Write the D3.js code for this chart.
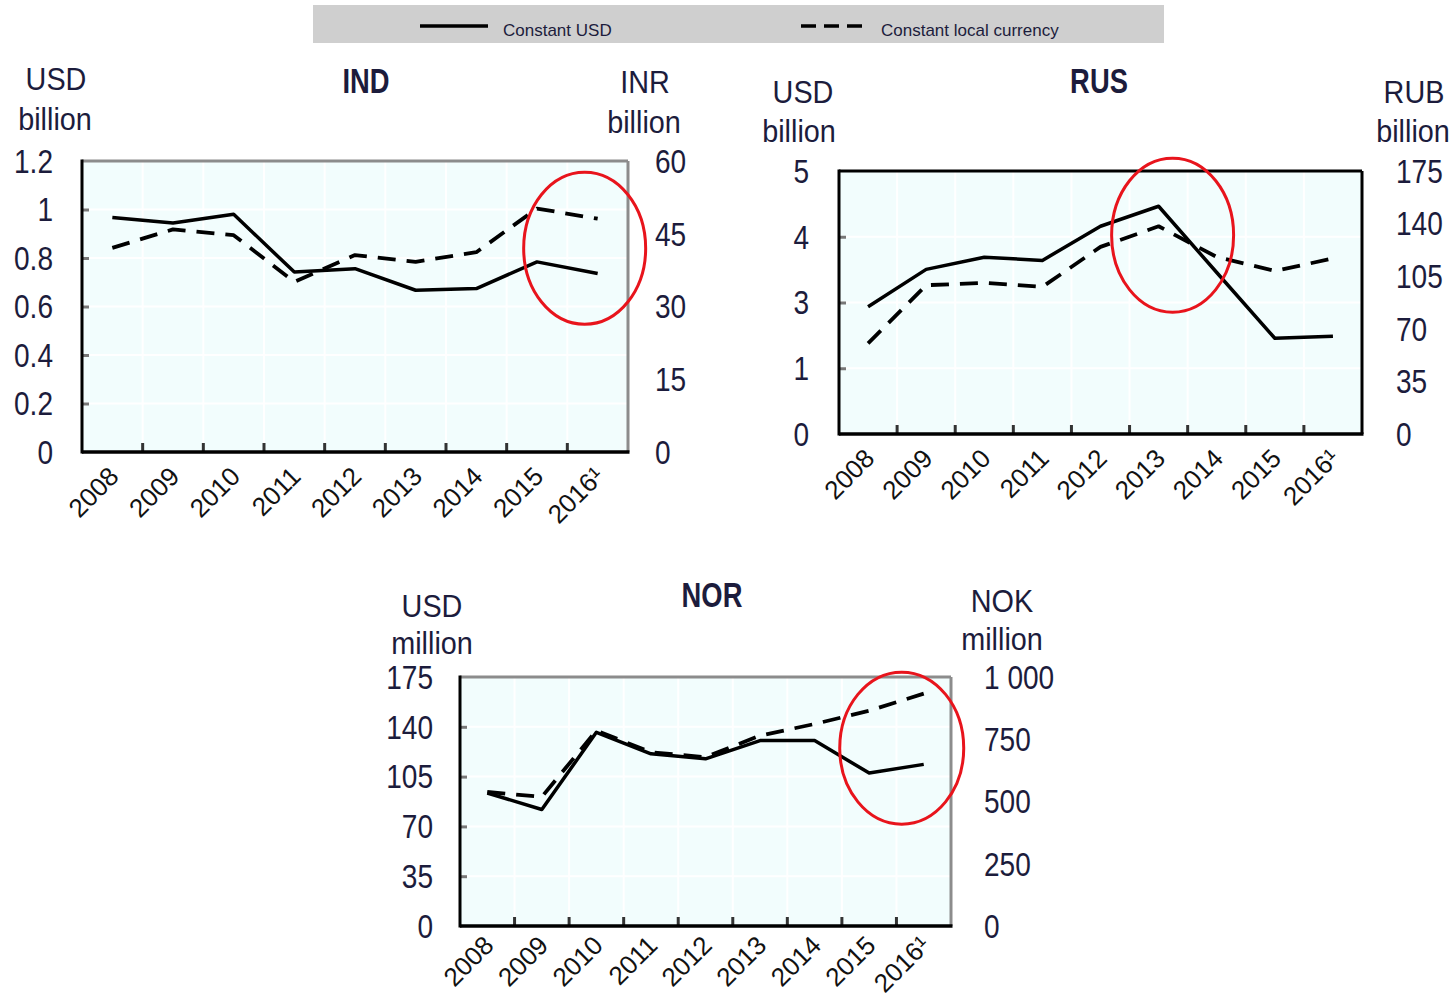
<!DOCTYPE html>
<html>
<head>
<meta charset="utf-8">
<script src="https://cdn.jsdelivr.net/npm/d3@7"></script>
<style>
  html, body { margin: 0; padding: 0; background: #ffffff; }
  svg { display: block; }
</style>
</head>
<body>
<script>
// ---------------- DATA ----------------
const years = ["2008", "2009", "2010", "2011", "2012", "2013", "2014", "2015", "2016¹"];

const seriesNames = ["Constant USD", "Constant local currency"];

// IND: USD billion (left), INR billion (right)
const indUSD = [0.967, 0.944, 0.980, 0.742, 0.756, 0.667, 0.674, 0.784, 0.736];
const indLCU = [42.1, 45.9, 44.7, 35.1, 40.6, 39.2, 41.2, 50.2, 48.1];
const indLeftTicks = [0, 0.2, 0.4, 0.6, 0.8, 1, 1.2];
const indLeftLabels = ["0", "0.2", "0.4", "0.6", "0.8", "1", "1.2"];
const indRightTicks = [0, 15, 30, 45, 60];
const indRightLabels = ["0", "15", "30", "45", "60"];

// RUS: USD billion (left), RUB billion (right)
const rusUSD = [2.42, 3.13, 3.36, 3.30, 3.95, 4.33, 3.07, 1.82, 1.86];
const rusLCU = [60.3, 99.0, 100.6, 97.9, 124.5, 138.2, 117.8, 108.5, 116.8];
const rusLeftTicks = [0, 1.25, 2.5, 3.75, 5];
const rusLeftLabels = ["0", "1", "3", "4", "5"];
const rusRightTicks = [0, 35, 70, 105, 140, 175];
const rusRightLabels = ["0", "35", "70", "105", "140", "175"];

// NOR: USD million (left), NOK million (right)
const norUSD = [93.5, 81.9, 136.1, 121.0, 117.5, 130.3, 130.3, 107.5, 113.6];
const norLCU = [538.6, 518.5, 784.6, 698, 678, 764.7, 811.3, 864.4, 933.4];
const norLeftTicks = [0, 35, 70, 105, 140, 175];
const norLeftLabels = ["0", "35", "70", "105", "140", "175"];
const norRightTicks = [0, 250, 500, 750, 1000];
const norRightLabels = ["0", "250", "500", "750", "1 000"];

// ---------------- DRAWING ----------------
const W = 1456, H = 1001;
const FONT = "'Liberation Sans', Arial, sans-serif";
const TXT = "#1c1c3c";

const svg = d3.select("body").append("svg").attr("width", W).attr("height", H);

function label(g, x, y, str, opt = {}) {
  return g.append("text")
    .attr("transform", `translate(${x},${y}) scale(${opt.sx || 1},1)`)
    .attr("text-anchor", opt.anchor || "middle")
    .attr("dy", opt.dy || "0.36em")
    .attr("font-family", FONT)
    .attr("font-size", (opt.size || 33) + "px")
    .attr("font-weight", opt.weight || "normal")
    .attr("fill", opt.fill || TXT)
    .text(str);
}

// Legend
const leg = svg.append("g");
leg.append("rect").attr("x", 313).attr("y", 5).attr("width", 851).attr("height", 38).attr("fill", "#cfcfcf");
leg.append("line").attr("x1", 420).attr("x2", 488).attr("y1", 26).attr("y2", 26)
  .attr("stroke", "#000").attr("stroke-width", 3.5);
leg.append("text").attr("x", 503).attr("y", 36).attr("font-family", FONT).attr("font-size", "17px")
  .attr("fill", "#1c1c3c").text(seriesNames[0]);
leg.append("line").attr("x1", 801).attr("x2", 868).attr("y1", 26).attr("y2", 26)
  .attr("stroke", "#000").attr("stroke-width", 3.5).attr("stroke-dasharray", "15,8");
leg.append("text").attr("x", 881).attr("y", 36).attr("font-family", FONT).attr("font-size", "17px")
  .attr("fill", "#1c1c3c").text(seriesNames[1]);

function panel(p) {
  const g = svg.append("g");
  const x = d3.scaleBand().domain(years).range([p.x0, p.x1]).padding(0);
  const yL = d3.scaleLinear().domain([0, p.leftMax]).range([p.y1, p.y0]);
  const yR = d3.scaleLinear().domain([0, p.rightMax]).range([p.y1, p.y0]);

  // plot background
  g.append("rect").attr("x", p.x0).attr("y", p.y0).attr("width", p.x1 - p.x0).attr("height", p.y1 - p.y0)
    .attr("fill", "#f2fdfd");

  // gridlines (white)
  const bounds = years.slice(1).map(d => x(d));
  g.selectAll(".vg").data(bounds).join("line")
    .attr("x1", d => d).attr("x2", d => d).attr("y1", p.y0).attr("y2", p.y1)
    .attr("stroke", "#ffffff").attr("stroke-width", 2);
  g.selectAll(".hg").data(p.leftTicks.slice(1, -1)).join("line")
    .attr("x1", p.x0).attr("x2", p.x1).attr("y1", d => yL(d)).attr("y2", d => yL(d))
    .attr("stroke", "#ffffff").attr("stroke-width", 2);

  // inner ticks on left axis
  const la = d3.axisRight(yL).tickValues(p.leftTicks.slice(1, -1)).tickSize(7).tickFormat("");
  const lag = g.append("g").attr("transform", `translate(${p.x0},0)`).call(la);
  lag.select(".domain").remove();
  lag.selectAll(".tick line").attr("stroke", "#777").attr("stroke-width", 3);

  // inner ticks on bottom axis at band boundaries
  g.selectAll(".bt").data(bounds).join("line")
    .attr("x1", d => d).attr("x2", d => d).attr("y1", p.y1).attr("y2", p.y1 - 9)
    .attr("stroke", "#333").attr("stroke-width", 3);

  // frame
  g.append("line").attr("x1", p.x0).attr("x2", p.x1).attr("y1", p.y0).attr("y2", p.y0)
    .attr("stroke", p.frameTR).attr("stroke-width", 3);
  g.append("line").attr("x1", p.x1).attr("x2", p.x1).attr("y1", p.y0).attr("y2", p.y1)
    .attr("stroke", p.frameTR).attr("stroke-width", 3);
  g.append("line").attr("x1", p.x0).attr("x2", p.x0).attr("y1", p.y0 - 1.5).attr("y2", p.y1 + 1.5)
    .attr("stroke", "#000").attr("stroke-width", 3);
  g.append("line").attr("x1", p.x0).attr("x2", p.x1 + 1.5).attr("y1", p.y1).attr("y2", p.y1)
    .attr("stroke", "#000").attr("stroke-width", 3.5);

  // lines
  const cx = d => x(d) + x.bandwidth() / 2;
  const lineL = d3.line().x((d, i) => cx(years[i])).y(d => yL(d));
  const lineR = d3.line().x((d, i) => cx(years[i])).y(d => yR(d));
  g.append("path").datum(p.lcu).attr("d", lineR).attr("fill", "none")
    .attr("stroke", "#000").attr("stroke-width", 3.8).attr("stroke-dasharray", "18,11")
    .attr("stroke-linejoin", "round");
  g.append("path").datum(p.usd).attr("d", lineL).attr("fill", "none")
    .attr("stroke", "#000").attr("stroke-width", 3.5).attr("stroke-linejoin", "round");

  // tick labels
  p.leftTicks.forEach((v, i) => label(g, p.leftLabelX, yL(v), p.leftLabels[i], { anchor: "end", sx: 0.85 }));
  p.rightTicks.forEach((v, i) => label(g, p.rightLabelX, yR(v), p.rightLabels[i], { anchor: "start", sx: 0.85 }));

  // year labels
  years.forEach(yr => {
    g.append("text")
      .attr("transform", `translate(${cx(yr) + 8},${p.y1 + p.yearDy}) rotate(-45)`)
      .attr("text-anchor", "end")
      .attr("font-family", FONT).attr("font-size", "26px").attr("fill", "#111")
      .text(yr);
  });

  // title and unit labels
  label(g, p.title[1], p.title[2], p.title[0], { size: 36, sx: 0.76, weight: "bold" });
  p.units.forEach(u => label(g, u[1], u[2], u[0], { size: 32, sx: 0.9 }));

  // red ellipse annotation
  g.append("ellipse")
    .attr("cx", cx(years[p.ell.i]) + p.ell.dx).attr("cy", yL(p.ell.v))
    .attr("rx", p.ell.rx).attr("ry", p.ell.ry)
    .attr("fill", "none").attr("stroke", "#e8141c").attr("stroke-width", 3);
}

panel({
  x0: 82, x1: 628, y0: 161, y1: 452, yearDy: 26,
  leftMax: 1.2, rightMax: 60, frameTR: "#8c8c8c",
  usd: indUSD, lcu: indLCU,
  leftTicks: indLeftTicks, leftLabels: indLeftLabels, rightTicks: indRightTicks, rightLabels: indRightLabels,
  leftLabelX: 53, rightLabelX: 655,
  title: ["IND", 366, 80],
  units: [["USD", 56, 78], ["billion", 55, 118], ["INR", 645, 81], ["billion", 644, 121]],
  ell: { i: 8, dx: -13, v: 0.84, rx: 61, ry: 76 }
});

panel({
  x0: 839, x1: 1362, y0: 171, y1: 434, yearDy: 26,
  leftMax: 5, rightMax: 175, frameTR: "#000",
  usd: rusUSD, lcu: rusLCU,
  leftTicks: rusLeftTicks, leftLabels: rusLeftLabels, rightTicks: rusRightTicks, rightLabels: rusRightLabels,
  leftLabelX: 809, rightLabelX: 1396,
  title: ["RUS", 1099, 80],
  units: [["USD", 803, 91], ["billion", 799, 130], ["RUB", 1414, 91], ["billion", 1413, 130]],
  ell: { i: 5, dx: 14, v: 3.78, rx: 61, ry: 77 }
});

panel({
  x0: 460, x1: 951, y0: 677, y1: 926, yearDy: 21,
  leftMax: 175, rightMax: 1000, frameTR: "#8c8c8c",
  usd: norUSD, lcu: norLCU,
  leftTicks: norLeftTicks, leftLabels: norLeftLabels, rightTicks: norRightTicks, rightLabels: norRightLabels,
  leftLabelX: 433, rightLabelX: 984,
  title: ["NOR", 712, 594],
  units: [["USD", 432, 605], ["million", 432, 642], ["NOK", 1002, 600], ["million", 1002, 638]],
  ell: { i: 8, dx: -22, v: 125, rx: 62, ry: 76 }
});
</script>
</body>
</html>
